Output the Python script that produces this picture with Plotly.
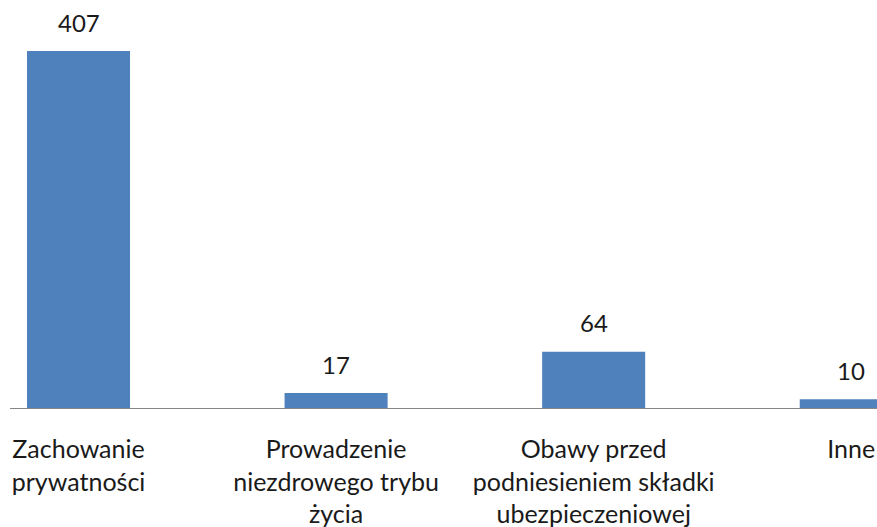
import plotly.graph_objects as go

categories = [
    "Zachowanie<br>prywatności",
    "Prowadzenie<br>niezdrowego trybu<br>życia",
    "Obawy przed<br>podniesieniem składki<br>ubezpieczeniowej",
    "Inne",
]
counts = [407, 17, 64, 10]

fnt = dict(family="Lato, Open Sans, sans-serif", size=24, color="#1a1a1a")
tick_fnt = dict(family="Lato, Open Sans, sans-serif", size=25, color="#1a1a1a")

fig = go.Figure(
    go.Bar(
        x=categories,
        y=counts,
        marker=dict(color="#4F81BD", line=dict(width=0)),
        hoverinfo="skip",
    )
)

# value labels above bars
for cat, val in zip(categories, counts):
    fig.add_annotation(
        x=cat, y=val, text=str(val), showarrow=False,
        yanchor="middle", yshift=29, font=fnt,
    )

fig.update_layout(
    width=877,
    height=527,
    margin=dict(l=10, r=0, t=0, b=119),
    paper_bgcolor="white",
    plot_bgcolor="white",
    bargap=0.6,
    showlegend=False,
    font=fnt,
)
fig.update_xaxes(
    range=[-0.266, 3.1],
    showline=True, linecolor="#868686", linewidth=1,
    showgrid=False, ticks="", tickfont=tick_fnt,
    ticklabelstandoff=19,
)
fig.update_yaxes(range=[0, 465.2], visible=False)

# drop the default page margin so the chart sits at the window corner
fig.write_html(
    "out.html",
    config={"displayModeBar": False},
    post_script="document.body.style.margin='0';document.body.style.overflow='hidden';",
)
